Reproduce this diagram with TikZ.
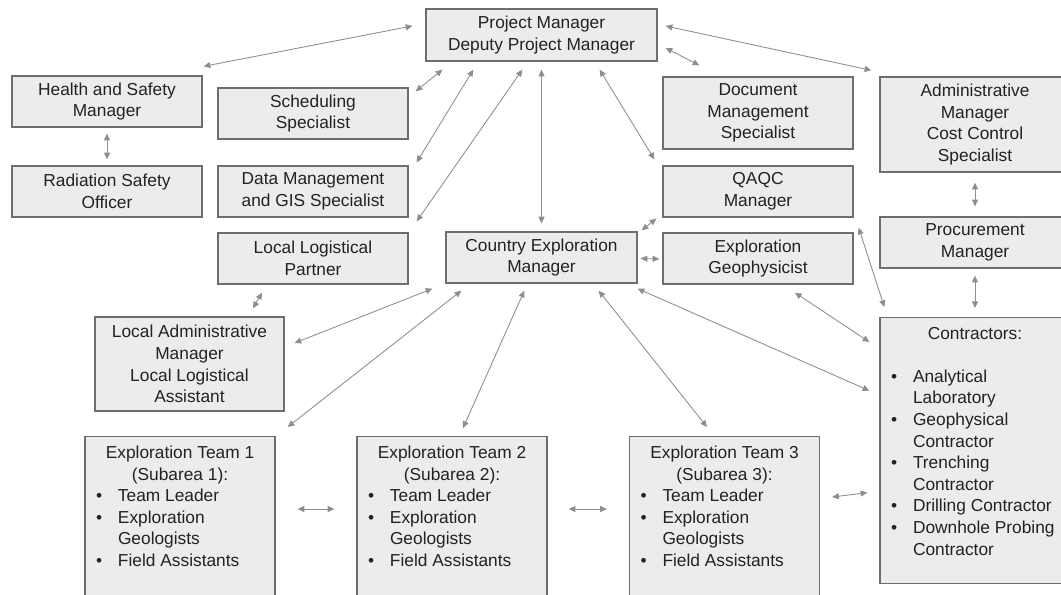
\documentclass[tikz,border=0pt]{standalone}
\usepackage{fontspec}
\setmainfont{Liberation Sans}
\usepackage{xcolor}
\usetikzlibrary{arrows.meta}
\definecolor{boxfill}{HTML}{ECECEC}
\definecolor{boxline}{HTML}{6E6E6E}
\definecolor{linkgray}{HTML}{8E8E8E}
\definecolor{inkgray}{HTML}{222222}
% bullet line with hanging indent
\newcommand{\bul}[1]{\par\hangindent=16.5pt\hangafter=1\noindent\makebox[16.5pt][l]{\textbullet}#1}

\begin{document}
\begin{tikzpicture}[x=0.75pt,y=-0.75pt,>={Triangle[length=5pt,width=4.5pt]},
  cell/.style={draw=boxline,fill=boxfill,line width=1pt,text=inkgray,
    minimum width=142.5pt,minimum height=38.25pt,font=\fontsize{13}{16.2}\selectfont},
  box/.style={cell,align=center,inner sep=2pt},
  listbox/.style={cell,inner xsep=8.25pt,inner ysep=7pt,anchor=north},
  link/.style={<->,draw=linkgray,line width=0.65pt}]
  \useasboundingbox (0,0) rectangle (1061,594);
  \fill[white] (0,0) rectangle (1061,594);
  \clip (0,0) rectangle (1061,594);

  % top level
  \node[box,minimum width=173.25pt,minimum height=39pt] (pm) at (541.5,35) {Project Manager\\Deputy Project Manager};

  % left columns
  \node[box] (hs) at (107,101.5) {Health and Safety\\Manager};
  \node[box] (rso) at (107,191.5) {Radiation Safety\\Officer};
  \node[box] (sched) at (313,113.5) {Scheduling\\Specialist};
  \node[box] (gis) at (313,191.5) {Data Management\\and GIS Specialist};
  \node[box] (llp) at (313,258.5) {Local Logistical\\Partner};
  \node[box,minimum width=141.75pt,minimum height=70.5pt] (lam) at (189.5,364) {Local Administrative\\Manager\\Local Logistical\\Assistant};

  % middle and right columns
  \node[box,minimum width=143.25pt] (cem) at (541.5,257.5) {Country Exploration\\Manager};
  \node[box,minimum height=54pt] (doc) at (758,113) {Document\\Management\\Specialist};
  \node[box] (qaqc) at (758,191.5) {QAQC\\Manager};
  \node[box] (geo) at (758,258.5) {Exploration\\Geophysicist};
  \node[box,minimum height=71.25pt] (adm) at (975,124.5) {Administrative\\Manager\\Cost Control\\Specialist};
  \node[box] (proc) at (975,242.5) {Procurement\\Manager};

  \node[listbox] (con) at (975,317) {\begin{minipage}[t][185.5pt][t]{126pt}
    {\centering Contractors:\par}\vspace{16.2pt}
    \bul{Analytical\newline Laboratory}
    \bul{Geophysical\newline Contractor}
    \bul{Trenching\newline Contractor}
    \bul{Drilling Contractor}
    \bul{Downhole Probing\newline Contractor}
  \end{minipage}};

  % field teams
  \foreach \n/\cx in {1/180,2/452,3/724.5}
    \node[listbox] (t\n) at (\cx,436) {\begin{minipage}[t][128pt][t]{126pt}
      {\centering Exploration Team \n\\(Subarea \n):\endgraf}
      \bul{Team Leader}
      \bul{Exploration\newline Geologists}
      \bul{Field Assistants}
    \end{minipage}};

  % links from the project manager
  \draw[link] ([shift={(1,-9)}]hs.north east) -- ([shift={(-13,-9)}]pm.west);
  \draw[link] ([shift={(17,8)}]pm.south west) -- ([shift={(7,4)}]sched.north east);
  \draw[link] ([shift={(48,8)}]pm.south west) -- ([shift={(8,-3)}]gis.north east);
  \draw[link] ([shift={(97,8)}]pm.south west) -- ([shift={(8,-11)}]llp.north east);
  \draw[link] ([shift={(0,8)}]pm.south) -- ([shift={(0,-8)}]cem.north);
  \draw[link] ([shift={(-58,8)}]pm.south east) -- ([shift={(-8,-6)}]qaqc.north west);
  \draw[link] ([shift={(8,13)}]pm.east) -- ([shift={(37,-11)}]doc.north west);
  \draw[link] ([shift={(8,-9)}]pm.east) -- ([shift={(-8,-6)}]adm.north west);

  % side chains
  \draw[link] ([shift={(0,6)}]hs.south) -- ([shift={(0,-6)}]rso.north);
  \draw[link] ([shift={(0,10)}]adm.south) -- ([shift={(0,-10)}]proc.north);
  \draw[link] ([shift={(0,7)}]proc.south) -- ([shift={(0,-9)}]con.north);
  \draw[link] ([shift={(-51,8)}]llp.south) -- ([shift={(63.5,-8)}]lam.north);

  % links around the country exploration manager
  \draw[link] ([shift={(-6,1)}]qaqc.south west) -- ([shift={(4,-1)}]cem.north east);
  \draw[link] ([shift={(3,1)}]cem.east) -- ([shift={(-3,0.5)}]geo.west);
  \draw[link] ([shift={(5,10)}]qaqc.south east) -- ([shift={(5,-10)}]con.north west);
  \draw[link] ([shift={(37,8)}]geo.south) -- ([shift={(-10,25)}]con.north west);
  \draw[link] ([shift={(0,5)}]cem.south east) -- ([shift={(-10,-60)}]con.west);
  \draw[link] ([shift={(-39,7)}]cem.south east) -- ([shift={(-17.5,-9)}]t3.north);
  \draw[link] ([shift={(79,7)}]cem.south west) -- ([shift={(11,-8)}]t2.north);
  \draw[link] ([shift={(16,7)}]cem.south west) -- ([shift={(12,-9)}]t1.north east);
  \draw[link] ([shift={(-13,5)}]cem.south west) -- ([shift={(10,-21)}]lam.east);

  % between the teams
  \draw[link] ([shift={(22,73)}]t1.north east) -- ([shift={(-22,73)}]t2.north west);
  \draw[link] ([shift={(21,73)}]t2.north east) -- ([shift={(-22,73)}]t3.north west);
  \draw[link] ([shift={(12,61)}]t3.north east) -- ([shift={(-12,42)}]con.west);
\end{tikzpicture}
\end{document}
